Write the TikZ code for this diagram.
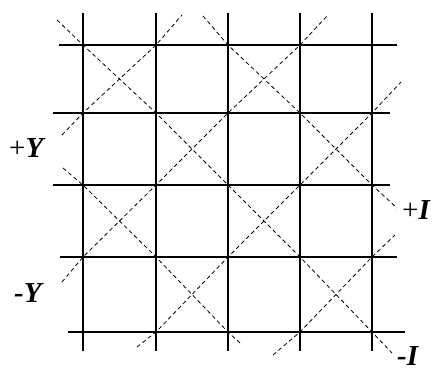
\documentclass[tikz,border=0pt]{standalone}
\usepackage{fontspec}
\setmainfont{Liberation Serif}
\begin{document}
\begin{tikzpicture}
[x=1pt,y=-1pt,
 grid/.style={line width=1.5pt},
 diag/.style={line width=0.8pt, dash pattern=on 4pt off 3pt},
 lbl/.style={anchor=base west, inner sep=0pt, text depth=0pt, font=\fontsize{29}{29}\selectfont}]
\useasboundingbox (0,0) rectangle (432,370);
% grid vertices (column, row)
\foreach \x [count=\i from 0] in {83,156,228,300,372}
  \foreach \y [count=\j from 0] in {45,113,185,257,332}
    \coordinate (\i\j) at (\x,\y);
% solid grid
\foreach \x in {0,...,4}
  \draw [grid] ([yshift=32pt]\x0) -- ([yshift=-19pt]\x4);
\foreach \y/\a/\b in {0/24/25, 1/30/18, 2/30/18, 3/23/25, 4/15/33}
  \draw [grid] ([xshift=-\a pt]0\y) -- ([xshift=\b pt]4\y);
% dashed diagonals
\draw [diag] (57,20) -- (00) -- (11) -- (22) -- (33) -- (44) -- (392,353);
\draw [diag] (203,16) -- (20) -- (31) -- (42) -- (397,208);
\draw [diag] (63,168) -- (02) -- (13) -- (24) -- (240,343);
\draw [diag] (62,135) -- (01) -- (10) -- (182,15);
\draw [diag] (62,282) -- (03) -- (12) -- (21) -- (30) -- (327,16);
\draw [diag] (137,347) -- (14) -- (23) -- (32) -- (41) -- (401,82);
\draw [diag] (273,355) -- (34) -- (43) -- (395,235);
% labels
\node [lbl] (py) at (9,157) {+\textbf{\textit{Y}}};
\node [lbl] (my) at (14,302) {\textbf{\textit{-Y}}};
\node [lbl] (pi) at (402,219) {+\textbf{\textit{I}}};
\node [lbl] (mi) at (397,365) {\textbf{\textit{-I}}};
\end{tikzpicture}
\end{document}
